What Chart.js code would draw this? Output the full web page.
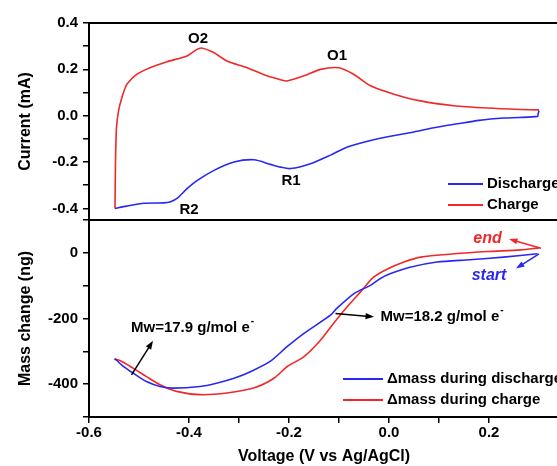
<!DOCTYPE html>
<html lang="en">
<head>
  <meta charset="UTF-8">
  <title>CV and mass change</title>
  <script src="https://cdn.jsdelivr.net/npm/chart.js"></script>
  <style>
    body { margin: 0; background: #fff; overflow: hidden; }
    #wrap { position: relative; width: 562px; height: 466px; }
  </style>
</head>
<body>
  <div id="wrap"><canvas id="chart"></canvas></div>

  <script>
    // Current vs voltage (top panel)
    const dischargeV = [0.300, 0.298, 0.297, 0.26, 0.23, 0.18, 0.137, 0.09, 0.05, 0.0, -0.037, -0.083, -0.117, -0.157, -0.197, -0.217, -0.237, -0.27, -0.31, -0.35, -0.384, -0.404, -0.424, -0.438, -0.45, -0.49, -0.525, -0.548];
    const dischargeI = [0.022, 0.005, -0.003, -0.008, -0.01, -0.02, -0.035, -0.052, -0.07, -0.09, -0.107, -0.135, -0.17, -0.207, -0.228, -0.222, -0.21, -0.19, -0.2, -0.236, -0.28, -0.315, -0.357, -0.372, -0.376, -0.378, -0.39, -0.4];
    const chargeV = [-0.548, -0.547, -0.545, -0.541, -0.534, -0.524, -0.504, -0.478, -0.444, -0.404, -0.385, -0.375, -0.35, -0.324, -0.284, -0.244, -0.217, -0.204, -0.17, -0.137, -0.1, -0.071, -0.037, 0.01, 0.063, 0.13, 0.197, 0.263, 0.3];
    const chargeI = [-0.4, -0.2, -0.05, 0.02, 0.08, 0.136, 0.179, 0.207, 0.233, 0.258, 0.285, 0.292, 0.272, 0.236, 0.207, 0.172, 0.155, 0.15, 0.172, 0.2, 0.207, 0.179, 0.129, 0.093, 0.064, 0.043, 0.033, 0.027, 0.025];

    // Mass change vs voltage (bottom panel)
    const massDisV = [0.297, 0.229, 0.162, 0.096, 0.042, 0.002, -0.018, -0.037, -0.07, -0.105, -0.117, -0.17, -0.204, -0.237, -0.277, -0.31, -0.345, -0.378, -0.431, -0.458, -0.485, -0.512, -0.532, -0.548];
    const massDis = [-3, -13, -21, -28, -44, -64, -79, -99, -124, -170, -190, -245, -286, -330, -362, -382, -397, -407, -412, -407, -392, -366, -345, -322];
    const massChgV = [-0.55, -0.538, -0.512, -0.485, -0.458, -0.425, -0.378, -0.324, -0.271, -0.23, -0.204, -0.17, -0.137, -0.111, -0.084, -0.057, -0.031, -0.003, 0.03, 0.063, 0.13, 0.197, 0.263, 0.3];
    const massChg = [-324, -328, -351, -377, -402, -422, -432, -427, -412, -382, -347, -316, -266, -215, -165, -119, -74, -49, -28, -13, -3, 4, 9, 15];

    // peak labels (top panel)
    const peakNames = ['O2', 'O1', 'R1', 'R2'];
    const peakV = [-0.382, -0.104, -0.196, -0.4];
    const peakI = [0.33, 0.258, -0.279, -0.408];

    const RED = '#f02828';
    const BLUE = '#2828f0';
    const FONT = '"Liberation Sans", Arial, sans-serif';

    const pts = (xs, ys) => xs.map((x, i) => ({ x: x, y: ys[i] }));

    function arrow(ctx, x1, y1, x2, y2, color) {
      const ang = Math.atan2(y2 - y1, x2 - x1);
      ctx.strokeStyle = color; ctx.fillStyle = color; ctx.lineWidth = 1.5;
      ctx.beginPath(); ctx.moveTo(x1, y1); ctx.lineTo(x2 - 5 * Math.cos(ang), y2 - 5 * Math.sin(ang)); ctx.stroke();
      ctx.beginPath();
      ctx.moveTo(x2, y2);
      ctx.lineTo(x2 - 9 * Math.cos(ang - 0.35), y2 - 9 * Math.sin(ang - 0.35));
      ctx.lineTo(x2 - 9 * Math.cos(ang + 0.35), y2 - 9 * Math.sin(ang + 0.35));
      ctx.closePath(); ctx.fill();
    }

    function mwText(ctx, txt, x, y) {
      ctx.font = 'bold 15px ' + FONT;
      ctx.textAlign = 'left'; ctx.textBaseline = 'middle'; ctx.fillStyle = '#000';
      ctx.fillText(txt, x, y);
      const w = ctx.measureText(txt).width;
      ctx.font = 'bold 10px ' + FONT;
      ctx.fillText('-', x + w + 1, y - 7);
    }

    const extras = {
      id: 'extras',
      afterDraw(chart) {
        const ctx = chart.ctx, a = chart.chartArea;
        const sx = chart.scales.x, sy = chart.scales.yCur, sm = chart.scales.yMass;
        ctx.save();

        // frames
        ctx.strokeStyle = '#000'; ctx.lineWidth = 2;
        [sy, sm].forEach(s => ctx.strokeRect(a.left, s.top, a.right - a.left, s.bottom - s.top));

        // peak labels
        ctx.font = 'bold 15px ' + FONT;
        ctx.fillStyle = '#000'; ctx.textAlign = 'center'; ctx.textBaseline = 'middle';
        peakNames.forEach((n, i) => ctx.fillText(n, sx.getPixelForValue(peakV[i]), sy.getPixelForValue(peakI[i])));

        // legends
        const legend = (s, dsIdx, lx, ly, len) => {
          dsIdx.forEach((d, k) => {
            const ds = chart.data.datasets[d];
            const y = s.bottom - ly + k * 21;
            ctx.strokeStyle = ds.borderColor; ctx.lineWidth = 2;
            ctx.beginPath(); ctx.moveTo(a.right - lx, y); ctx.lineTo(a.right - lx + len, y); ctx.stroke();
            ctx.fillStyle = '#000'; ctx.textAlign = 'left'; ctx.font = 'bold 15px ' + FONT;
            ctx.fillText(ds.label, a.right - lx + len + 4, y);
          });
        };
        legend(sy, [0, 1], 111, 36, 35);
        legend(sm, [2, 3], 216, 38, 40);

        // mass annotations
        const px = v => sx.getPixelForValue(v), pm = v => sm.getPixelForValue(v);
        mwText(ctx, 'Mw=17.9 g/mol e', px(-0.516), pm(-229));
        arrow(ctx, px(-0.515), pm(-372), px(-0.472), pm(-268), '#000');
        mwText(ctx, 'Mw=18.2 g/mol e', px(-0.017), pm(-196));
        arrow(ctx, px(-0.107), pm(-185), px(-0.03), pm(-195), '#000');

        ctx.font = 'italic bold 16px ' + FONT; ctx.textAlign = 'center';
        ctx.fillStyle = RED; ctx.fillText('end', px(0.197), pm(43));
        arrow(ctx, px(0.304), pm(14), px(0.24), pm(42), RED);
        ctx.fillStyle = BLUE; ctx.fillText('start', px(0.2), pm(-69));
        arrow(ctx, px(0.3), pm(-3), px(0.254), pm(-48), BLUE);

        ctx.restore();
      }
    };

    const tickFont = { family: FONT, size: 15, weight: 'bold' };
    const titleFont = { family: FONT, size: 16, weight: 'bold' };
    const onTenth = s => { s.ticks = s.ticks.filter(t => Math.abs(t.value * 10 - Math.round(t.value * 10)) < 1e-6); };
    const fmt = v => (Math.abs(v) < 1e-9 ? '0.0' : v.toFixed(1));
    const gridOpts = { drawOnChartArea: false, drawTicks: true, tickLength: 6, color: '#000', lineWidth: 1.5 };
    const borderOpts = { display: true, color: '#000', width: 2 };

    new Chart(document.getElementById('chart'), {
      type: 'scatter',
      data: {
        datasets: [
          { label: 'Discharge', data: pts(dischargeV, dischargeI), yAxisID: 'yCur', borderColor: BLUE },
          { label: 'Charge', data: pts(chargeV, chargeI), yAxisID: 'yCur', borderColor: RED },
          { label: '\u0394mass during discharge', data: pts(massDisV, massDis), yAxisID: 'yMass', borderColor: BLUE },
          { label: '\u0394mass during charge', data: pts(massChgV, massChg), yAxisID: 'yMass', borderColor: RED }
        ].map(d => Object.assign(d, { showLine: true, pointRadius: 0, borderWidth: 1.6, tension: 0.25, fill: false }))
      },
      options: {
        responsive: true,
        maintainAspectRatio: false,
        animation: false,
        layout: { padding: { left: 12, top: 23, right: 3, bottom: 0 } },
        plugins: { legend: { display: false }, tooltip: { enabled: false } },
        scales: {
          x: {
            type: 'linear', min: -0.6, max: 0.34,
            afterBuildTicks: onTenth,
            afterFit: s => { s.height = 49; },
            ticks: {
              stepSize: 0.1, autoSkip: false, color: '#000', font: tickFont, padding: 1, maxRotation: 0,
              callback: v => (Math.round(v * 10) % 2 === 0 ? fmt(v) : '')
            },
            grid: gridOpts, border: borderOpts,
            title: { display: true, text: 'Voltage (V vs Ag/AgCl)', color: '#000', font: titleFont, padding: { top: 0, bottom: 0 } }
          },
          yMass: {
            type: 'linear', position: 'left', stack: 'panels', stackWeight: 1,
            min: -500, max: 100,
            afterFit: s => { s.width = 77; },
            ticks: {
              stepSize: 100, autoSkip: false, color: '#000', font: tickFont, padding: 5,
              callback: v => (v % 200 === 0 && v <= 0 ? String(v) : '')
            },
            grid: gridOpts, border: borderOpts,
            title: { display: true, text: 'Mass change (ng)', color: '#000', font: titleFont, padding: { top: 4, bottom: 0 } }
          },
          yCur: {
            type: 'linear', position: 'left', stack: 'panels', stackWeight: 1,
            min: -0.45, max: 0.4,
            afterBuildTicks: onTenth,
            afterFit: s => { s.width = 77; },
            ticks: {
              stepSize: 0.1, autoSkip: false, includeBounds: false, color: '#000', font: tickFont, padding: 5,
              callback: v => (Math.round(v * 10) % 2 === 0 ? fmt(v) : '')
            },
            grid: gridOpts, border: borderOpts,
            title: { display: true, text: 'Current (mA)', color: '#000', font: titleFont, padding: { top: 4, bottom: 0 } }
          }
        }
      },
      plugins: [extras]
    });
  </script>
</body>
</html>
